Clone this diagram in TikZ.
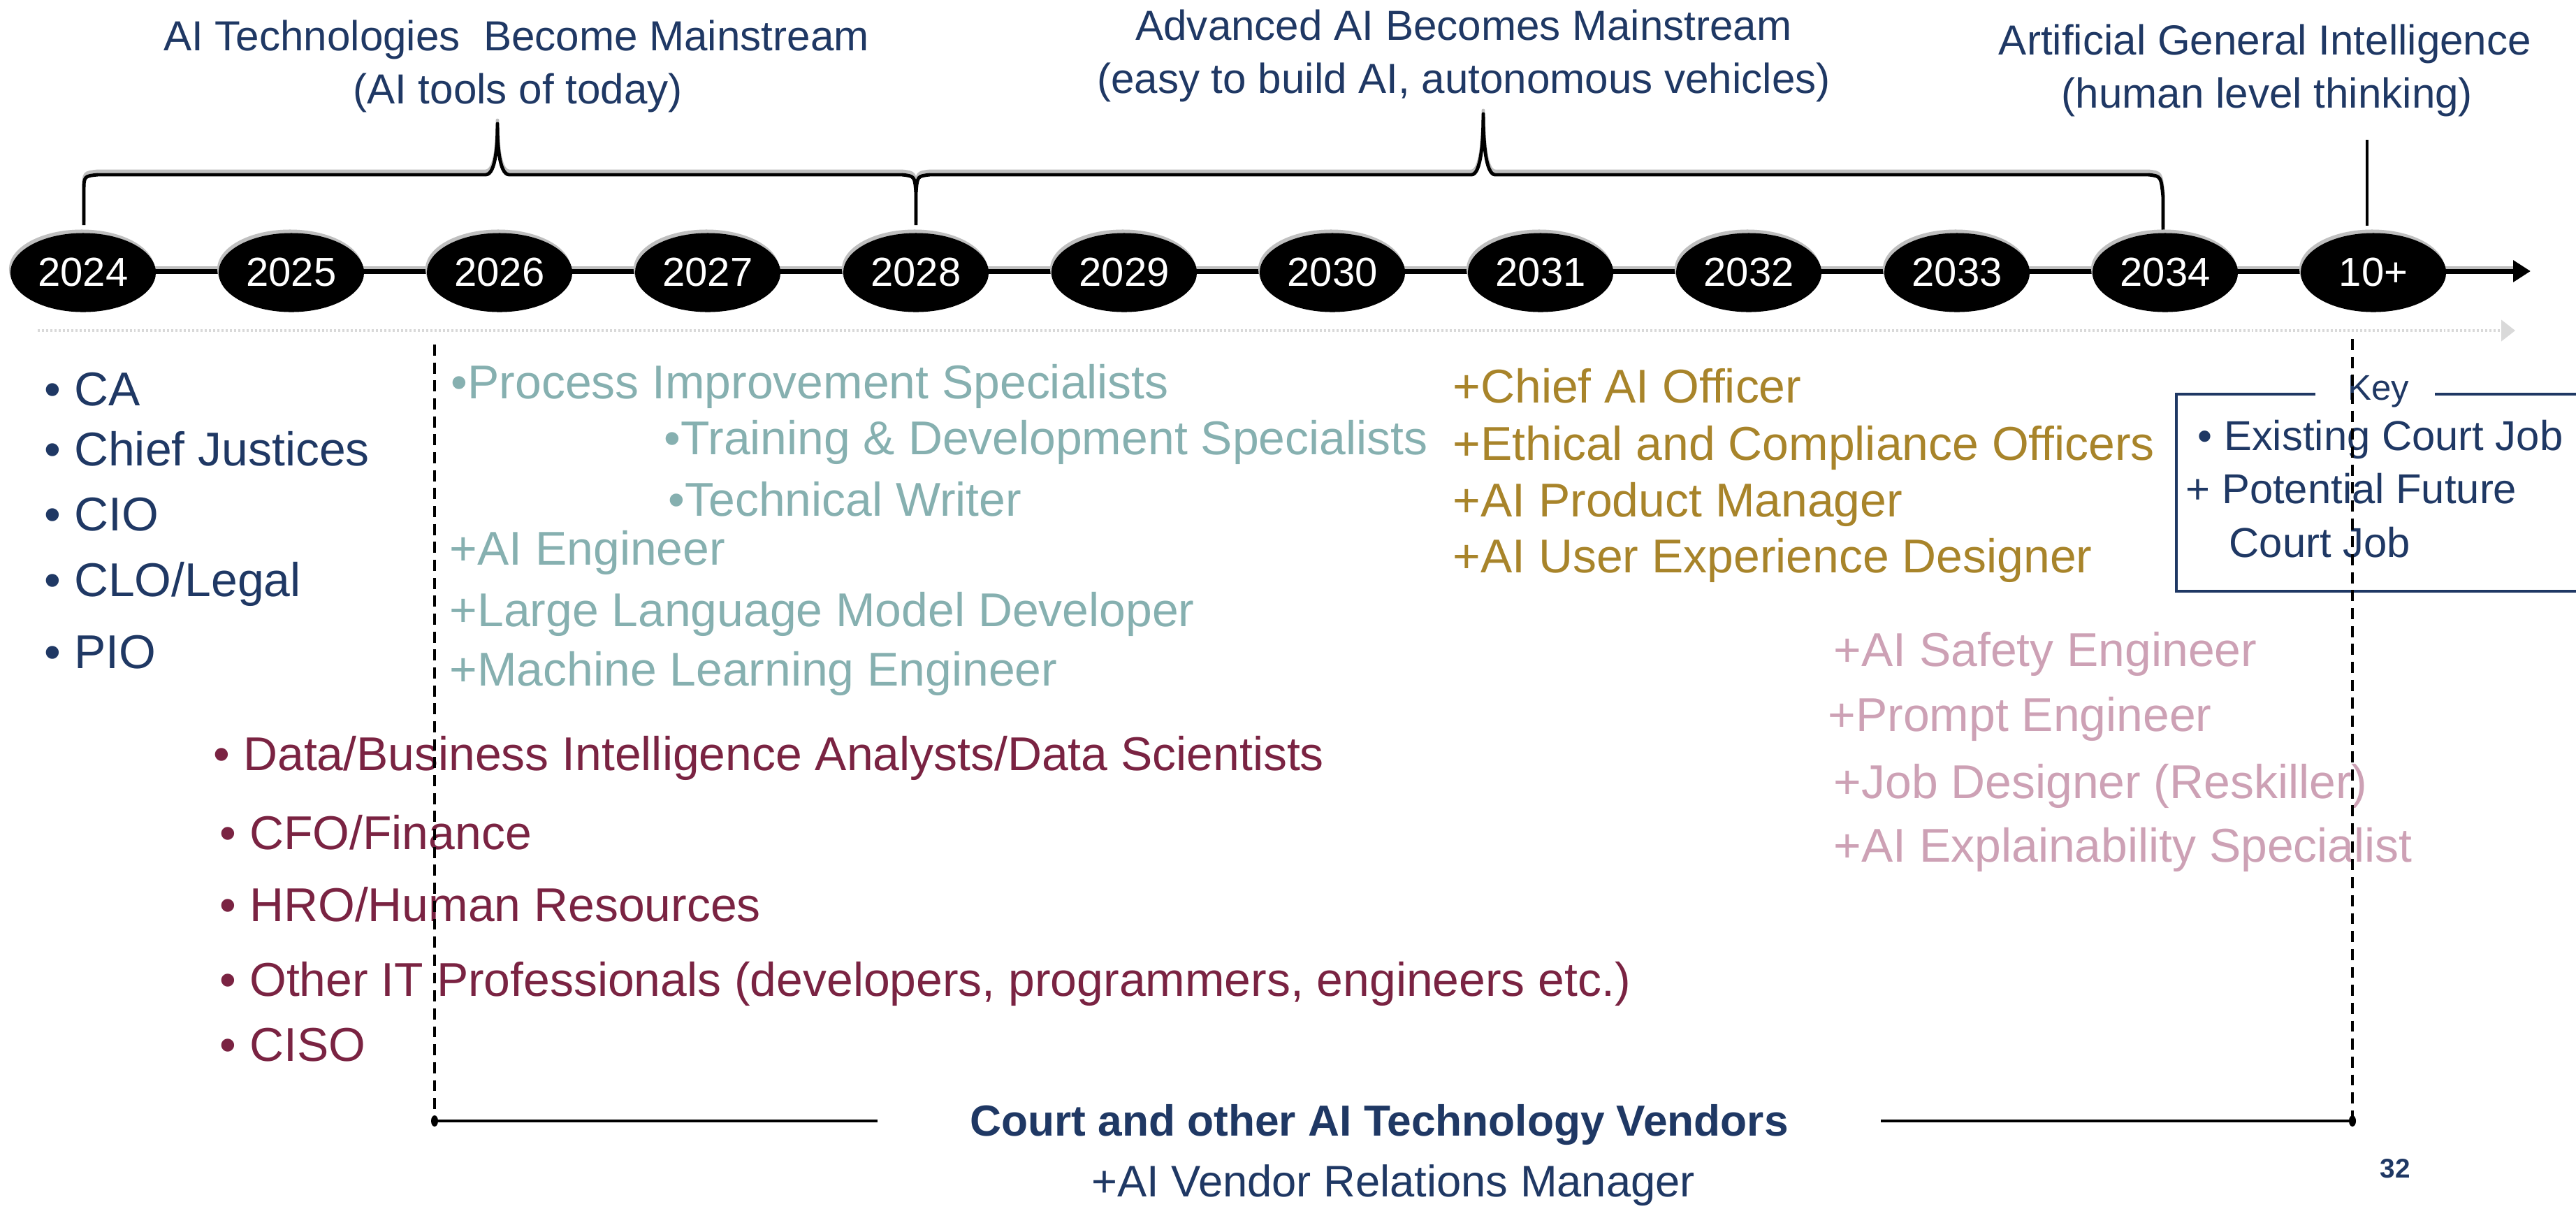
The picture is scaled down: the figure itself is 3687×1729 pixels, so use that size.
\documentclass[tikz,border=0pt]{standalone}
\usepackage{fontspec}
\setmainfont{Liberation Sans}
\usetikzlibrary{shapes.geometric,arrows.meta,calc}
\definecolor{navy}{HTML}{1F3864}
\definecolor{teal2}{HTML}{86B0B0}
\definecolor{maroon2}{HTML}{7A2342}
\definecolor{gold2}{HTML}{A8842A}
\definecolor{pink2}{HTML}{CDA1B5}
\definecolor{shadowgray}{HTML}{BFBFBF}
\definecolor{dotgray}{HTML}{D9D9D9}
\begin{document}
\begin{tikzpicture}[x=0.01cm,y=-0.01cm,
  yearnode/.style={ellipse, fill=black, minimum width=2.08cm, minimum height=1.13cm, inner sep=0pt, text=white, font=\fontsize{16.5}{19}\selectfont},
  txt/.style={anchor=base west, inner sep=0pt, font=\fontsize{19.3}{22}\selectfont},
  keytxt/.style={anchor=base west, inner sep=0pt, text=navy, font=\fontsize{17}{19}\selectfont},
  titletxt/.style={anchor=base, inner sep=0pt, text=navy, font=\fontsize{17.1}{20}\selectfont},
  guide/.style={dash pattern=on 4.5pt off 2.8pt, line width=0.9pt},
  bracestyle/.style={line width=1.4pt, line join=round}
]
\useasboundingbox (0,0) rectangle (3687,1729);
\fill[white] (0,0) rectangle (3687,1729);

% titles
\node[titletxt] (t1a) at (739,72) {AI Technologies\ \ Become Mainstream};
\node[titletxt] (t1b) at (741,148) {(AI tools of today)};
\node[titletxt] (t2a) at (2095,57) {Advanced AI Becomes Mainstream};
\node[titletxt] (t2b) at (2095,133) {(easy to build AI, autonomous vehicles)};
\node[titletxt] (t3a) at (3242,78) {Artificial General Intelligence};
\node[titletxt] (t3b) at (3245,154) {(human level thinking)};

% braces (grey shadow, then black)
\foreach \dy/\col in {-5/shadowgray, 0/black} {
  \draw[bracestyle, \col, shift={(0,\dy)}] (120,322) -- (120,275) .. controls (120,252) .. (140,250) -- (695,250)
     .. controls (710,250) and (712,205) .. (712,177) .. controls (712,205) and (714,250) .. (729,250) -- (1291,250)
     .. controls (1309,252) .. (1311,275) -- (1311,322);
  \draw[bracestyle, \col, shift={(0,\dy)}] (1311,275) .. controls (1313,252) .. (1331,250) -- (2106,250)
     .. controls (2120,250) and (2123,200) .. (2123,163) .. controls (2123,200) and (2126,250) .. (2140,250) -- (3075,250)
     .. controls (3093,252) .. (3096,282) -- (3096,330);
}

% timeline
\coordinate (tend) at (3622,388);
\coordinate (tstart) at (119,388);
\draw[shadowgray, line width=2pt, shift={(0,-4)}] (119,388) -- (3600,388);
\draw[black, line width=2pt, -{Triangle[length=0.25cm, width=0.3cm]}] (tstart) -- (tend);

\foreach \yr [count=\i from 0, evaluate=\i as \xx using 119+298*\i] in {2024,2025,2026,2027,2028,2029,2030,2031,2032,2033,2034,10+} {
  \fill[shadowgray] (\xx-2,385) ellipse (1.04cm and 0.565cm);
  \node[yearnode] (y\i) at (\xx,390) {\yr};
}

% AGI marker
\coordinate (agi) at (3388,200);
\draw[line width=1.2pt] (agi) -- (agi |- 0,323);

% dotted grey line
\coordinate (d1) at (54,473);
\coordinate (d2) at (3600,473);
\draw[dotgray, line width=1.2pt, dash pattern=on 0.85pt off 0.85pt, -{Triangle[length=0.2cm, width=0.3cm]}] (d1) -- (d2);

% left navy list
\node[txt, text=navy] (ca) at (63,580) {•\ CA};
\node[txt, text=navy] (cj) at (63,666) {•\ Chief Justices};
\node[txt, text=navy] (cio) at (63,759) {•\ CIO};
\node[txt, text=navy] (clo) at (63,853) {•\ CLO/Legal};
\node[txt, text=navy] (pio) at (63,956) {•\ PIO};

% teal list
\node[txt, text=teal2] (pis) at (645,570) {•Process Improvement Specialists};
\node[txt, text=teal2] (tds) at (950,650) {•Training \& Development Specialists};
\node[txt, text=teal2] (tw) at (956,738) {•Technical Writer};
\node[txt, text=teal2] (aie) at (643,808) {+AI Engineer};
\node[txt, text=teal2] (llm) at (643,896) {+Large Language Model Developer};
\node[txt, text=teal2] (mle) at (643,981) {+Machine Learning Engineer};

% maroon list
\node[txt, text=maroon2] (dba) at (305,1102) {•\ Data/Business Intelligence Analysts/Data Scientists};
\node[txt, text=maroon2] (cfo) at (314,1215) {•\ CFO/Finance};
\node[txt, text=maroon2] (hro) at (314,1318) {•\ HRO/Human Resources};
\node[txt, text=maroon2] (oit) at (314,1425) {•\ Other IT Professionals (developers, programmers, engineers etc.)};
\node[txt, text=maroon2] (ciso) at (314,1518) {•\ CISO};

% gold list
\node[txt, text=gold2] (caio) at (2079,576) {+Chief AI Officer};
\node[txt, text=gold2] (eco) at (2079,658) {+Ethical and Compliance Officers};
\node[txt, text=gold2] (apm) at (2079,739) {+AI Product Manager};
\node[txt, text=gold2] (uxd) at (2079,819) {+AI User Experience Designer};

% pink list
\node[txt, text=pink2] (ase) at (2624,953) {+AI Safety Engineer};
\node[txt, text=pink2] (pe) at (2616,1046) {+Prompt Engineer};
\node[txt, text=pink2] (jd) at (2624,1142) {+Job Designer (Reskiller)};
\node[txt, text=pink2] (aes) at (2624,1233) {+AI Explainability Specialist};

% key box
\node[anchor=base, inner sep=0pt, text=navy, font=\fontsize{14.5}{16}\selectfont] (key) at (3404,572) {Key};
\draw[navy, line width=1.4pt] (3314,564) -- (3115,564) -- (3115,846) -- (3687,846);
\draw[navy, line width=1.4pt] (3485,564) -- (3687,564);
\node[keytxt] (k1) at (3145,644) {•\ Existing Court Job};
\node[keytxt] (k2) at (3128,720) {+\ Potential Future};
\node[keytxt] (k3) at (3190,797) {Court Job};

% vendors
\coordinate (dl) at (622,1604);
\coordinate (dr) at (3367,1604);
\coordinate (dt1) at (622,493);
\coordinate (dt2) at (3367,485);
\draw[guide] (dt1) -- (dl);
\draw[guide] (dt2) -- (dr);
\node[anchor=base, inner xsep=1.32cm, inner ysep=0pt, text=navy, font=\fontsize{17.7}{21}\selectfont\bfseries] (court) at (1974,1625) {Court and other AI Technology Vendors};
\draw[line width=1.1pt] (dl) -- (dl -| court.west);
\draw[line width=1.1pt] (dl -| court.east) -- (dr);
\fill (dl) ellipse (0.05cm and 0.08cm);
\fill (dr) ellipse (0.05cm and 0.08cm);
\node[anchor=base, inner sep=0pt, text=navy, font=\fontsize{18}{21}\selectfont] (avr) at (1994,1712) {+AI Vendor Relations Manager};
\node[anchor=base, inner sep=0pt, text=navy, font=\fontsize{11}{13}\selectfont\bfseries] (pg) at (3428,1685) {32};
\end{tikzpicture}
\end{document}
